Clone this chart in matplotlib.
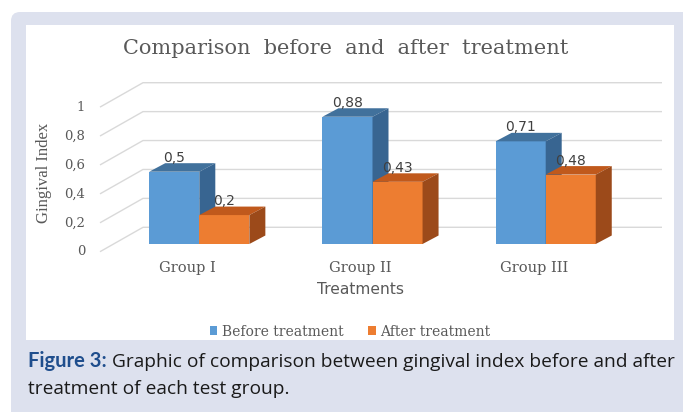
import matplotlib
matplotlib.use('Agg')
import matplotlib.pyplot as plt
from matplotlib.patches import Polygon, FancyBboxPatch, Rectangle, Patch
import numpy as np

# ---------------- data ----------------
categories = ['Group I', 'Group II', 'Group III']
before = [0.5, 0.88, 0.71]
after = [0.2, 0.43, 0.48]
before_labels = ['0,5', '0,88', '0,71']
after_labels = ['0,2', '0,43', '0,48']
yticks = [0, 0.2, 0.4, 0.6, 0.8, 1.0]
ytick_labels = ['0', '0,2', '0,4', '0,6', '0,8', '1']
series_names = ['Before treatment', 'After treatment']
title = 'Comparison  before  and  after  treatment'
xlabel = 'Treatments'
ylabel = 'Gingival Index'
caption_bold = 'Figure 3:'
caption_line1 = ' Graphic of comparison between gingival index before and after'
caption_line2 = 'treatment of each test group.'

# ---------------- style ----------------
W, H = 683, 412
BLUE = ['#5B9BD5', '#41719C', '#386591']     # front, top, side
ORANGE = ['#ED7D31', '#C0591C', '#9C4A1A']
GRID = '#D9D9D9'
TXT = '#595959'
SERIF = ['DejaVu Serif']

# pixel geometry of the pseudo-3D frame
X0, SX = 199.3, 173.2     # px of category 0 boundary, px per category
Y0, SY = 244.0, 144.6     # px of value 0 on bar front, px per unit
BAR_W = 0.289
DDX, DDY = 16.0 / SX, 8.5 / SY          # bar depth
FL_X, BK_X, RT_X = (100 - X0) / SX, (143 - X0) / SX, (662 - X0) / SX
FL_Y, BK_Y = (Y0 - 251.7) / SY, (Y0 - 227.3) / SY

fig = plt.figure(figsize=(W / 100, H / 100), dpi=100)
fig.patch.set_facecolor('white')

# background panel
bg = fig.add_axes([0, 0, 1, 1])
bg.set_xlim(0, W)
bg.set_ylim(H, 0)
bg.axis('off')
bg.add_patch(FancyBboxPatch((11, 12), W + 30, H + 30,
                            boxstyle='round,pad=0,rounding_size=9',
                            fc='#DDE1EE', ec='none'))
bg.add_patch(Rectangle((26, 25), 648, 315, fc='white', ec='none'))

# main axes in "bar front" data coordinates
ax = fig.add_axes([0, 0, 1, 1])
ax.set_xlim(-X0 / SX, (W - X0) / SX)
ax.set_ylim((Y0 - H) / SY, Y0 / SY)
ax.axis('off')
ax.patch.set_alpha(0)

# gridlines (floor diagonal + back wall)
for v, lab in zip(yticks, ytick_labels):
    ax.plot([FL_X, BK_X, RT_X], [v + FL_Y, v + BK_Y, v + BK_Y],
            color=GRID, lw=1.0, zorder=1, solid_capstyle='butt')
    ax.annotate(lab, xy=(FL_X, v + FL_Y), xytext=(-15, 0),
                textcoords='offset pixels', ha='right', va='center',
                fontsize=9.5, color=TXT, family=SERIF)

x = np.arange(len(categories))


def draw_bars(x0s, vals, cols, labels, z):
    ax.bar(x0s, vals, width=BAR_W, align='edge', color=cols[0],
           edgecolor='none', zorder=z)
    for x0, h, lab in zip(x0s, vals, labels):
        x1 = x0 + BAR_W
        ax.add_patch(Polygon([(x0, h), (x1, h), (x1 + DDX, h + DDY), (x0 + DDX, h + DDY)],
                             closed=True, fc=cols[1], ec='none', zorder=z))
        ax.add_patch(Polygon([(x1, 0), (x1, h), (x1 + DDX, h + DDY), (x1 + DDX, DDY)],
                             closed=True, fc=cols[2], ec='none', zorder=z))
        ax.annotate(lab, xy=(x0 + BAR_W / 2, h + DDY), xytext=(0, 5.5),
                    textcoords='offset pixels', ha='center', va='center',
                    fontsize=10, color='#404040', zorder=10)


draw_bars(x - BAR_W, before, BLUE, before_labels, 3)
draw_bars(x, after, ORANGE, after_labels, 4)

for xi, cat in zip(x, categories):
    ax.annotate(cat, xy=(xi, 0), xytext=(-12, -24), textcoords='offset pixels',
                ha='center', va='center', fontsize=10.5, color=TXT, family=SERIF)

ax.annotate(xlabel, xy=(1, 0), xytext=(-12, -45), textcoords='offset pixels',
            ha='center', va='center', fontsize=11.2, color=TXT)

fig.text(44 / W, 1 - 173 / H, ylabel, rotation=90, ha='center', va='center',
         fontsize=12, color=TXT, family=['Liberation Serif'])

fig.text(345.5 / W, 1 - 49 / H, title, ha='center', va='center',
         fontsize=15, color=TXT, family=SERIF)

handles = [Patch(fc=BLUE[0], ec='none'), Patch(fc=ORANGE[0], ec='none')]
leg = fig.legend(handles, series_names, loc='center',
                 bbox_to_anchor=(350 / W, 1 - 331.5 / H), ncol=2, frameon=False,
                 handlelength=0.55, handleheight=0.55, handletextpad=0.3,
                 columnspacing=1.8, borderaxespad=0, borderpad=0,
                 prop={'family': SERIF, 'size': 10})
for t in leg.get_texts():
    t.set_color(TXT)

# caption
t1 = fig.text(28 / W, 1 - 367.3 / H, caption_bold, ha='left', va='baseline',
              fontsize=14.5, fontweight='bold', color='#1F4E8D', family=['Lato'])
bg.annotate(caption_line1, xy=(1, 0), xycoords=t1, ha='left', va='bottom',
            fontsize=13.8, color='#1A1A1A', family=['Open Sans'])
fig.text(28 / W, 1 - 393.5 / H, caption_line2, ha='left', va='baseline',
         fontsize=13.8, color='#1A1A1A', family=['Open Sans'])

fig.savefig('out.png', dpi=100, facecolor='white')
